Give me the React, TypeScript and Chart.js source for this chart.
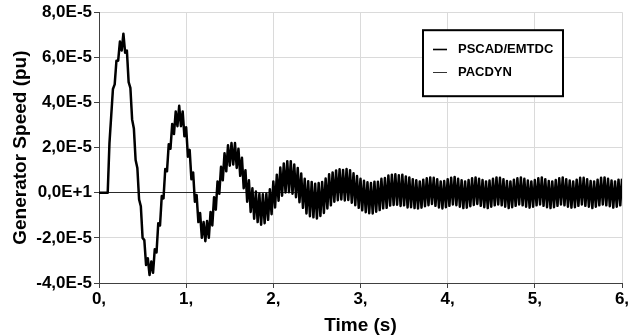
import React, { useEffect, useRef } from "react";
import { Chart, registerables } from "chart.js";

Chart.register(...registerables);
Chart.defaults.font.family = "'Liberation Sans', Arial, sans-serif";

// Sample spacing of the recorded trace (s)
const timeStepS = 0.02;

// Generator speed deviation, in units of 1E-5 pu, one value every 0.02 s (t = 0 ... 6 s)
const pscadSpeedE5: number[] = [
  0, 0, 0, 0, 0, 0, 2.2, 3.4, 4.6, 4.8, // 0.00 - 0.18
  5.85, 5.85, 6.7, 6.3, 7.05, 6.2, 6.3, 4.9, 4.65, 3.25, // 0.20
  2.85, 1.45, 1.1, -0.3, -0.6, -2.0, -2.1, -3.2, -2.9, -3.65, // 0.40
  -3.05, -3.55, -2.5, -2.65, -1.35, -1.45, -0.15, -0.25, 1.05, 0.95, // 0.60
  2.15, 1.95, 3.05, 2.6, 3.6, 2.95, 3.85, 2.95, 3.6, 2.5, // 0.80
  2.9, 1.6, 1.9, 0.6, 0.9, -0.4, -0.1, -1.3, -0.9, -2.0, // 1.00
  -1.3, -2.15, -1.25, -2.0, -0.85, -1.45, -0.2, -0.75, 0.5, -0.05, // 1.20
  1.15, 0.55, 1.75, 0.95, 2.1, 1.2, 2.2, 1.25, 2.2, 1.1, // 1.40
  1.95, 0.75, 1.55, 0.2, 1.0, -0.4, 0.55, -0.85, 0.2, -1.15, // 1.60
  0.05, -1.3, -0.05, -1.42, -0.07, -1.35, -0.05, -1.2, 0.15, -0.95, // 1.80
  0.5, -0.65, 0.8, -0.35, 1.12, -0.13, 1.3, 0.01, 1.4, 0.02, // 2.00
  1.4, -0.04, 1.25, -0.2, 1.1, -0.42, 0.85, -0.67, 0.62, -0.92, // 2.20
  0.51, -1.04, 0.48, -1.09, 0.4, -1.14, 0.43, -1.03, 0.48, -0.9, // 2.40
  0.63, -0.7, 0.82, -0.56, 0.9, -0.4, 0.99, -0.33, 1.04, -0.3, // 2.60
  1.01, -0.34, 1.05, -0.32, 1.0, -0.44, 0.86, -0.55, 0.74, -0.67, // 2.80
  0.62, -0.78, 0.53, -0.86, 0.46, -0.91, 0.43, -0.92, 0.49, -0.84, // 3.00
  0.49, -0.77, 0.62, -0.69, 0.65, -0.67, 0.76, -0.57, 0.8, -0.54, // 3.20
  0.82, -0.53, 0.77, -0.59, 0.8, -0.56, 0.72, -0.65, 0.68, -0.64, // 3.40
  0.6, -0.68, 0.55, -0.7, 0.5, -0.66, 0.58, -0.6, 0.64, -0.55, // 3.60
  0.68, -0.5, 0.66, -0.58, 0.6, -0.65, 0.5, -0.7, 0.52, -0.64, // 3.80
  0.6, -0.58, 0.66, -0.52, 0.7, -0.55, 0.62, -0.62, 0.55, -0.68, // 4.00
  0.5, -0.66, 0.56, -0.6, 0.64, -0.54, 0.68, -0.5, 0.62, -0.58, // 4.20
  0.56, -0.64, 0.5, -0.68, 0.54, -0.62, 0.62, -0.56, 0.68, -0.52, // 4.40
  0.66, -0.56, 0.6, -0.62, 0.52, -0.68, 0.5, -0.64, 0.58, -0.58, // 4.60
  0.64, -0.52, 0.68, -0.56, 0.62, -0.62, 0.54, -0.66, 0.5, -0.62, // 4.80
  0.56, -0.56, 0.64, -0.52, 0.68, -0.58, 0.6, -0.64, 0.52, -0.68, // 5.00
  0.5, -0.64, 0.56, -0.58, 0.64, -0.52, 0.68, -0.56, 0.6, -0.62, // 5.20
  0.54, -0.66, 0.5, -0.64, 0.58, -0.58, 0.66, -0.52, 0.66, -0.58, // 5.40
  0.6, -0.62, 0.52, -0.68, 0.5, -0.62, 0.58, -0.56, 0.66, -0.52, // 5.60
  0.68, -0.56, 0.62, -0.6, 0.54, -0.66, 0.5, -0.62, 0.58, -0.56, // 5.80
  0.62, // 6.00
];

// PACDYN overlays the PSCAD/EMTDC trace (indistinguishable in the picture)
const pacdynSpeedE5: number[] = pscadSpeedE5;

const seriesNames = ["PSCAD/EMTDC", "PACDYN"];

const xTickValues = [0, 1, 2, 3, 4, 5, 6];
const xTickLabels = ["0,", "1,", "2,", "3,", "4,", "5,", "6,"];
const yTickValues = [-4, -2, 0, 2, 4, 6, 8];
const yTickLabels = ["-4,0E-5", "-2,0E-5", "0,0E+1", "2,0E-5", "4,0E-5", "6,0E-5", "8,0E-5"];

const xTitle = "Time (s)";
const yTitle = "Generator Speed (pu)";

const FONT = "'Liberation Sans', Arial, sans-serif";

const legendBoxPlugin = {
  id: "legendBox",
  afterDatasetsDraw(chart: any) {
    const { ctx, chartArea } = chart;
    const left = chartArea.left + 324;
    const top = chartArea.top + 18;
    const w = 140;
    const h = 66;
    ctx.save();
    ctx.fillStyle = "#ffffff";
    ctx.fillRect(left, top, w, h);
    ctx.lineWidth = 2;
    ctx.strokeStyle = "#000000";
    ctx.strokeRect(left, top, w, h);
    chart.data.datasets.forEach((ds: any, i: number) => {
      const y = Math.round(top + 19 + i * 23) + 0.5;
      ctx.beginPath();
      ctx.lineWidth = i === 0 ? 1.6 : 1;
      ctx.strokeStyle = i === 0 ? "#000000" : "#333333";
      ctx.moveTo(left + 10, y);
      ctx.lineTo(left + 24, y);
      ctx.stroke();
      ctx.fillStyle = "#000000";
      ctx.font = `bold 13px ${FONT}`;
      ctx.textBaseline = "middle";
      ctx.textAlign = "left";
      ctx.fillText(ds.label, left + 35, y);
    });
    ctx.restore();
  },
};

export default function App() {
  const canvasRef = useRef<HTMLCanvasElement | null>(null);

  useEffect(() => {
    const canvas = canvasRef.current;
    if (!canvas) return;
    const toPoints = (arr: number[]) => arr.map((v, i) => ({ x: i * timeStepS, y: v }));

    const chart = new Chart(canvas, {
      type: "line",
      data: {
        datasets: [
          {
            label: seriesNames[0],
            data: toPoints(pscadSpeedE5),
            borderColor: "#000000",
            borderWidth: 2.5,
            borderJoinStyle: "round",
            pointRadius: 0,
            tension: 0,
            order: 0,
          },
          {
            label: seriesNames[1],
            data: toPoints(pacdynSpeedE5),
            borderColor: "#333333",
            borderWidth: 1,
            borderJoinStyle: "round",
            pointRadius: 0,
            tension: 0,
            order: 1,
          },
        ],
      },
      options: {
        responsive: false,
        animation: false,
        parsing: false as any,
        layout: { padding: { top: 11, right: 14, left: 0, bottom: 0 } },
        plugins: {
          legend: { display: false },
          tooltip: { enabled: false },
        },
        scales: {
          x: {
            type: "linear",
            min: 0,
            max: 6,
            afterBuildTicks: (s: any) => {
              s.ticks = xTickValues.map((v) => ({ value: v }));
            },
            afterFit: (s: any) => {
              s.height = 52;
            },
            ticks: {
              callback: (v: any) => {
                const i = xTickValues.indexOf(Number(v));
                return i >= 0 ? xTickLabels[i] : "";
              },
              font: { size: 17, weight: "bold", family: FONT },
              color: "#000000",
              padding: 1,
              maxRotation: 0,
              autoSkip: false,
            },
            grid: { color: "#dadada", tickColor: "#404040", tickLength: 5, lineWidth: 1 },
            border: { color: "#404040", width: 1 },
            title: {
              display: true,
              text: xTitle,
              color: "#000000",
              font: { size: 19, weight: "bold", family: FONT, lineHeight: 1 },
              padding: { top: 0, bottom: 0 },
            },
          },
          y: {
            type: "linear",
            min: -4,
            max: 8,
            afterBuildTicks: (s: any) => {
              s.ticks = yTickValues.map((v) => ({ value: v }));
            },
            afterFit: (s: any) => {
              s.width = 99;
            },
            ticks: {
              callback: (v: any) => {
                const i = yTickValues.indexOf(Number(v));
                return i >= 0 ? yTickLabels[i] : "";
              },
              font: { size: 17, weight: "bold", family: FONT },
              color: "#000000",
              padding: 2,
              autoSkip: false,
            },
            grid: {
              color: (ctx: any) => (ctx.tick && ctx.tick.value === 0 ? "#2a2a2a" : "#dadada"),
              tickColor: "#404040",
              tickLength: 5,
              lineWidth: 1,
            },
            border: { color: "#404040", width: 1 },
            title: {
              display: true,
              text: yTitle,
              color: "#000000",
              font: { size: 19, weight: "bold", family: FONT },
              padding: { top: 9, bottom: 0 },
            },
          },
        },
      } as any,
      plugins: [legendBoxPlugin],
    });

    return () => {
      chart.destroy();
    };
  }, []);

  return (
    <div style={{ position: "fixed", left: 0, top: 0, width: 636, height: 335, background: "#ffffff" }}>
      <canvas ref={canvasRef} width={636} height={335} style={{ display: "block" }} />
    </div>
  );
}
